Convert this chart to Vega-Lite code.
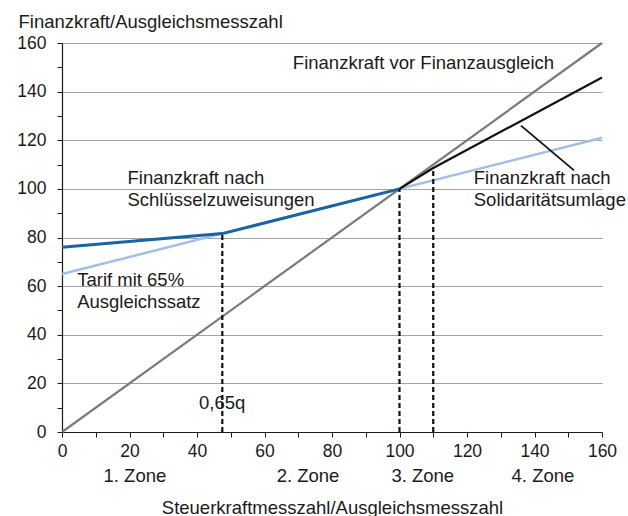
{
  "$schema": "https://vega.github.io/schema/vega-lite/v6.json",
  "autosize": "none",
  "width": 540,
  "height": 389,
  "padding": {"left": 62, "top": 43, "right": 26, "bottom": 84},
  "background": "white",
  "config": {
    "view": {"stroke": null},
    "font": "Liberation Sans",
    "axis": {
      "labelFont": "Liberation Sans",
      "titleFont": "Liberation Sans",
      "labelFontSize": 17.5,
      "titleFontSize": 18.5,
      "titleFontWeight": "normal",
      "labelColor": "#1a1a1a",
      "titleColor": "#1a1a1a",
      "domainColor": "#1a1a1a",
      "domainWidth": 1.2,
      "tickColor": "#1a1a1a",
      "tickSize": 5,
      "tickWidth": 1,
      "labelFlush": false,
      "labelOverlap": false
    }
  },
  "datasets": {
    "lines": [
      {"series": "vor", "x": 0, "y": 0},
      {"series": "vor", "x": 160, "y": 160},
      {"series": "tarif", "x": 0, "y": 65},
      {"series": "tarif", "x": 160, "y": 121},
      {"series": "soli", "x": 100, "y": 100},
      {"series": "soli", "x": 110, "y": 108.6},
      {"series": "soli", "x": 160, "y": 145.8},
      {"series": "schluessel", "x": 0, "y": 76},
      {"series": "schluessel", "x": 47.5, "y": 81.6},
      {"series": "schluessel", "x": 100, "y": 100},
      {"series": "pointer", "x": 136, "y": 126},
      {"series": "pointer", "x": 151.7, "y": 107.6}
    ],
    "dashes": [
      {"x": 47.5, "y": 0, "y2": 81.6},
      {"x": 100, "y": 0, "y2": 100},
      {"x": 110, "y": 0, "y2": 108.6}
    ],
    "labels": [
      {"x": 68.4, "y": 149.5, "text": ["Finanzkraft vor Finanzausgleich"]},
      {"x": 19.4, "y": 101.9, "text": ["Finanzkraft nach", "Schlüsselzuweisungen"]},
      {"x": 4.5, "y": 60.1, "text": ["Tarif mit 65%", "Ausgleichssatz"]},
      {"x": 40.6, "y": 9.6, "text": ["0,65q"]},
      {"x": 122, "y": 101.9, "text": ["Finanzkraft nach", "Solidaritätsumlage"]}
    ],
    "zones": [
      {"x": 21.6, "y": -20.6, "text": "1. Zone"},
      {"x": 72.9, "y": -20.6, "text": "2. Zone"},
      {"x": 106.9, "y": -20.6, "text": "3. Zone"},
      {"x": 142.5, "y": -20.6, "text": "4. Zone"}
    ]
  },
  "encoding": {
    "x": {
      "field": "x",
      "type": "quantitative",
      "scale": {"domain": [0, 160], "nice": false, "zero": false},
      "axis": {
        "values": [0, 10, 20, 30, 40, 50, 60, 70, 80, 90, 100, 110, 120, 130, 140, 150, 160],
        "labelExpr": "datum.value % 20 === 0 ? datum.label : ''",
        "grid": false,
        "labelPadding": 5,
        "title": "Steuerkraftmesszahl/Ausgleichsmesszahl",
        "titleBaseline": "alphabetic",
        "titleY": 81
      }
    },
    "y": {
      "field": "y",
      "type": "quantitative",
      "scale": {"domain": [0, 160], "nice": false, "zero": false},
      "axis": {
        "values": [0, 10, 20, 30, 40, 50, 60, 70, 80, 90, 100, 110, 120, 130, 140, 150, 160],
        "labelExpr": "datum.value % 20 === 0 ? datum.label : ''",
        "grid": true,
        "gridColor": {"condition": {"test": "datum.value % 20 === 0 && datum.value > 0", "value": "#a3a3a3"}, "value": "transparent"},
        "gridWidth": 1.2,
        "labelPadding": 11,
        "title": "Finanzkraft/Ausgleichsmesszahl",
        "titleAngle": 0,
        "titleAlign": "left",
        "titleBaseline": "alphabetic",
        "titleX": -44,
        "titleY": -16
      }
    }
  },
  "layer": [
    {
      "data": {"name": "lines"},
      "transform": [{"filter": "datum.series === 'vor'"}],
      "mark": {"type": "line", "color": "#7a7a7a", "strokeWidth": 2.2}
    },
    {
      "data": {"name": "lines"},
      "transform": [{"filter": "datum.series === 'tarif'"}],
      "mark": {"type": "line", "color": "#a3bfe8", "strokeWidth": 2.5}
    },
    {
      "data": {"name": "lines"},
      "transform": [{"filter": "datum.series === 'soli'"}],
      "mark": {"type": "line", "color": "#111111", "strokeWidth": 2.2}
    },
    {
      "data": {"name": "lines"},
      "transform": [{"filter": "datum.series === 'schluessel'"}],
      "mark": {"type": "line", "color": "#1865a6", "strokeWidth": 3}
    },
    {
      "data": {"name": "lines"},
      "transform": [{"filter": "datum.series === 'pointer'"}],
      "mark": {"type": "line", "color": "#111111", "strokeWidth": 1.8}
    },
    {
      "data": {"name": "dashes"},
      "mark": {"type": "rule", "color": "#111111", "strokeWidth": 2.2, "strokeDash": [5, 3]},
      "encoding": {"y2": {"field": "y2"}}
    },
    {
      "data": {"name": "labels"},
      "mark": {"type": "text", "align": "left", "baseline": "alphabetic", "fontSize": 18.5, "lineHeight": 22, "color": "#1a1a1a", "font": "Liberation Sans"},
      "encoding": {"text": {"field": "text"}}
    },
    {
      "data": {"name": "zones"},
      "mark": {"type": "text", "align": "center", "baseline": "alphabetic", "fontSize": 18.5, "color": "#1a1a1a", "font": "Liberation Sans"},
      "encoding": {"text": {"field": "text"}}
    }
  ]
}
